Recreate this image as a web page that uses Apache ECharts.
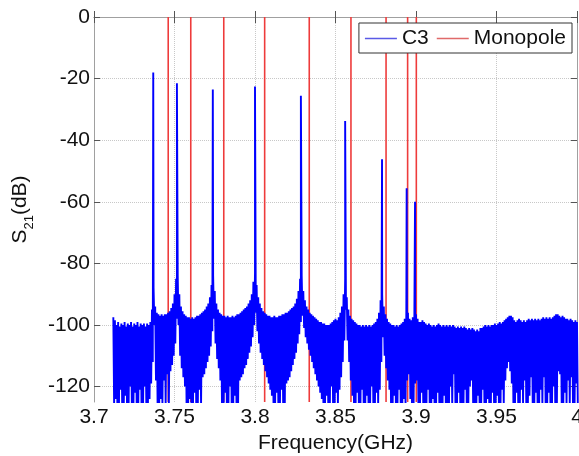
<!DOCTYPE html>
<html>
<head>
<meta charset="utf-8">
<script src="https://cdn.jsdelivr.net/npm/echarts@6/dist/echarts.min.js"></script>
<style>html,body{margin:0;padding:0;background:#fff}#c{width:579px;height:456px}</style>
</head>
<body>
<div id="c"></div>
<script>
// Frequency axis (GHz) and S21 (dB) ticks
const xTicks = [3.7, 3.75, 3.8, 3.85, 3.9, 3.95, 4];
const yTicks = [-120, -100, -80, -60, -40, -20, 0];

// C3: measured trace, sampled every 0.001 GHz from 3.712 GHz
// (upper and lower edge of the noisy band read from the picture)
const noiseStart = 3.712;
const noiseStep = 0.001;
const noiseUpper = [
  -97.5,-98.5,-100,-99,-100.5,-99.5,-100,-99,
  -100.5,-99.5,-100,-99,-100.5,-99.5,-100,-99,-100.5,-99.5,
  -100,-99.5,-100.5,-99.5,-100,-99,-95,-88,-94,-96,
  -96.5,-97,-96.5,-97,-96.5,-96.5,-96,-95.5,-94.5,-93,
  -90,-85,-84,-90,-94,-95.5,-96.5,-97,-97.5,-97.5,
  -98,-97.5,-98,-97.5,-97,-97,-96.5,-96,-95.5,-95,
  -94,-93,-91,-87,-84,-89,-93,-95,-96,-96.5,
  -97,-97,-97.5,-97,-97.5,-97.5,-97,-97.5,-97,-96.5,
  -96.5,-96,-95.5,-95,-94.5,-94,-93,-92,-90,-86,
  -83,-87,-91,-93,-94.5,-95.5,-96,-96.5,-97,-97,
  -97.5,-97.5,-97,-97.5,-97.5,-97,-97,-96.5,-96.5,-96,
  -96,-95.5,-95,-94.5,-94,-93,-91.5,-89,-85,-84,
  -89,-92,-94,-95,-96,-96.5,-97,-97.5,-98,-98.5,
  -99,-99,-99.5,-99.5,-100,-100,-100,-99.5,-99,-98.5,
  -98,-98.5,-97.5,-96,-94,-90,-85,-91,-95,-97,
  -98,-98.5,-99,-99.5,-100,-100,-100.5,-100,-100.5,-100,
  -100.5,-100,-100.5,-100,-99.5,-99,-98,-96,-92,-90,
  -94,-96.5,-98,-99,-99.5,-100,-100,-100.5,-100,-100.5,
  -100,-99.5,-99,-98,-95,-96,-98,-98.5,-97.5,-96,
  -96.5,-98,-99,-99,-98.5,-99,-99.5,-100,-99.5,-100,
  -100.5,-100,-100.5,-100,-99.5,-100,-100.5,-100,-100.5,-100,
  -100.5,-100,-100.5,-100,-100.5,-101,-100.5,-101,-100.5,-101,
  -100.5,-101,-101.5,-101,-101.5,-101,-101.5,-102,-101.5,-102,
  -101,-101,-100.5,-100,-100.5,-100,-100.5,-100,-100,-99.5,
  -100,-99.5,-99,-99.5,-99,-98.5,-98,-97.5,-97,-97,
  -97.5,-98.5,-99,-98.5,-98,-98.5,-99,-98.5,-99,-98.5,
  -98,-98.5,-98,-98.5,-98,-98.5,-98,-98.5,-98,-97.5,
  -98,-97.5,-98,-97.5,-98,-97.5,-97,-96.5,-96.5,-97,
  -97.5,-97,-97.5,-98,-98,-98.5,-98,-98.5,-99,-98.5,
  -99
];
const noiseLower = [
  -126,-124,-126,-126,-121,-126,-126,-123,
  -126,-126,-120,-126,-126,-122,-126,-126,-121,-126,
  -126,-120,-126,-126,-124,-119,-112,-100,-118,-126,
  -126,-124,-126,-118,-126,-116,-126,-115,-113,-110,
  -106,-98,-100,-110,-114,-117,-120,-126,-126,-124,
  -126,-126,-122,-126,-126,-121,-126,-117,-116,-114,
  -112,-110,-107,-102,-98,-106,-111,-114,-118,-126,
  -126,-122,-126,-126,-120,-126,-126,-123,-126,-126,
  -118,-117,-116,-114,-113,-111,-109,-107,-104,-100,
  -96,-102,-106,-109,-111,-113,-115,-117,-119,-121,
  -123,-126,-126,-122,-126,-126,-121,-126,-126,-119,
  -118,-117,-115,-113,-111,-109,-106,-103,-99,-97,
  -101,-104,-106,-108,-110,-112,-114,-116,-118,-120,
  -122,-124,-126,-126,-123,-126,-126,-120,-126,-126,
  -122,-126,-121,-117,-112,-105,-95,-105,-112,-118,
  -123,-126,-126,-122,-126,-126,-121,-126,-126,-123,
  -126,-126,-120,-126,-126,-122,-126,-121,-112,-104,
  -110,-114,-118,-121,-126,-126,-123,-126,-126,-121,
  -126,-126,-124,-126,-118,-116,-124,-126,-126,-119,
  -118,-126,-126,-122,-126,-126,-126,-121,-126,-126,
  -124,-126,-126,-122,-126,-126,-126,-123,-126,-126,
  -126,-120,-126,-116,-126,-126,-122,-126,-126,-126,
  -121,-126,-126,-120,-118,-126,-126,-126,-123,-126,
  -126,-121,-126,-126,-124,-126,-126,-122,-126,-126,
  -123,-126,-126,-121,-126,-118,-114,-112,-115,-119,
  -126,-126,-122,-126,-126,-121,-126,-118,-126,-126,
  -123,-117,-126,-126,-122,-126,-126,-121,-126,-117,
  -126,-126,-122,-126,-126,-120,-126,-126,-115,-116,
  -126,-126,-122,-126,-118,-126,-117,-126,-126,-119,
  -126
];
// C3 resonance peaks
const peakFreq = [3.7368, 3.7515, 3.7738, 3.8000, 3.8285, 3.8560, 3.8789, 3.8942, 3.8994];
const peakDb   = [-18, -21.5, -23.5, -22.6, -25.6, -33.8, -46.2, -55.6, -60];

// Monopole: resonance lines
const monopoleFreq = [3.7461, 3.7601, 3.7806, 3.8060, 3.8337, 3.8596, 3.8814, 3.8948, 3.9002];

const yMin = -125, yMax = 0;

// build C3 trace
const r = v => Math.round(v * 1e5) / 1e5;
let c3 = [];
for (let i = 0; i < noiseUpper.length; i++) {
  const f = noiseStart + i * noiseStep;
  c3.push([r(f), noiseUpper[i]]);
  c3.push([r(f + noiseStep / 2), noiseLower[i]]);
}
peakFreq.forEach((f, k) => c3.push([f, peakDb[k]]));
c3.sort((a, b) => a[0] - b[0]);

// build Monopole lines
let mono = [];
monopoleFreq.forEach(f => { mono.push([f, yMin]); mono.push([f, yMax]); mono.push([f, '-']); });

const font = 'Liberation Sans, Arial, sans-serif';
const axisGrey = '#a0a0a0';
const chart = echarts.init(document.getElementById('c'), null, {renderer: 'canvas'});
chart.setOption({
  animation: false,
  backgroundColor: '#fff',
  textStyle: {fontFamily: font},
  grid: {left: 94, right: 2, top: 17, bottom: 54, containLabel: false, outerBoundsMode: 'none'},
  legend: {
    right: 7, top: 23,
    padding: [5, 6, 4, 6],
    icon: 'rect',
    itemWidth: 32, itemHeight: 1.5, itemGap: 8,
    borderColor: '#333', borderWidth: 1, backgroundColor: '#fff',
    textStyle: {fontSize: 21, color: '#111', fontFamily: font},
    data: [{name: 'C3', itemStyle: {color: '#5a5ae6'}}, {name: 'Monopole', itemStyle: {color: '#e06a6a'}}]
  },
  xAxis: [{
    type: 'value', min: 3.7, max: 4, interval: 0.05,
    name: 'Frequency(GHz)', nameLocation: 'middle', nameGap: 27,
    nameTextStyle: {fontSize: 21, color: '#111', fontFamily: font},
    axisLine: {show: true, lineStyle: {color: axisGrey}},
    axisTick: {show: true, inside: true, length: 6, lineStyle: {color: '#555'}},
    axisLabel: {fontSize: 21, color: '#111', margin: 5, fontFamily: font,
      formatter: v => String(+v.toFixed(2))},
    splitLine: {show: true, lineStyle: {color: '#c8c8c8', type: 'dotted', width: 1}}
  }, {
    type: 'value', position: 'top', min: 3.7, max: 4, interval: 0.05,
    axisLine: {show: true, lineStyle: {color: axisGrey}},
    axisTick: {show: true, inside: true, length: 6, lineStyle: {color: '#555'}},
    axisLabel: {show: false}, splitLine: {show: false}
  }],
  yAxis: [{
    type: 'value', min: yMin, max: yMax,
    name: '{a|S}{sub|21}{a|(dB)}', nameLocation: 'middle', nameGap: 58, nameRotate: 90,
    nameTextStyle: {fontFamily: font, color: '#111', rich: {
      a: {fontSize: 21, lineHeight: 26, verticalAlign: 'top', fontFamily: font, color: '#111'},
      sub: {fontSize: 13, lineHeight: 13, verticalAlign: 'bottom', fontFamily: font, color: '#111'}
    }},
    axisLine: {show: true, lineStyle: {color: axisGrey}},
    axisTick: {show: true, inside: true, length: 6, customValues: yTicks, lineStyle: {color: '#555'}},
    axisLabel: {fontSize: 21, color: '#111', margin: 4, customValues: yTicks, fontFamily: font},
    splitLine: {show: true, lineStyle: {color: '#c8c8c8', type: 'dotted', width: 1}}
  }, {
    type: 'value', position: 'right', min: yMin, max: yMax,
    axisLine: {show: true, lineStyle: {color: axisGrey}},
    axisTick: {show: true, inside: true, length: 6, customValues: yTicks, lineStyle: {color: '#555'}},
    axisLabel: {show: false, customValues: yTicks}, splitLine: {show: false}
  }],
  series: [{
    name: 'C3', type: 'line', data: c3, xAxisIndex: 0, yAxisIndex: 0,
    symbol: 'none', z: 3, clip: true, sampling: null,
    lineStyle: {color: '#0000ff', width: 1.9}, itemStyle: {color: '#0000ff'}
  }, {
    name: 'Monopole', type: 'line', data: mono, xAxisIndex: 0, yAxisIndex: 0,
    symbol: 'none', z: 2, clip: true, connectNulls: false,
    lineStyle: {color: '#ee3b3b', width: 1.6}, itemStyle: {color: '#ee3b3b'}
  }]
});
</script>
</body>
</html>
